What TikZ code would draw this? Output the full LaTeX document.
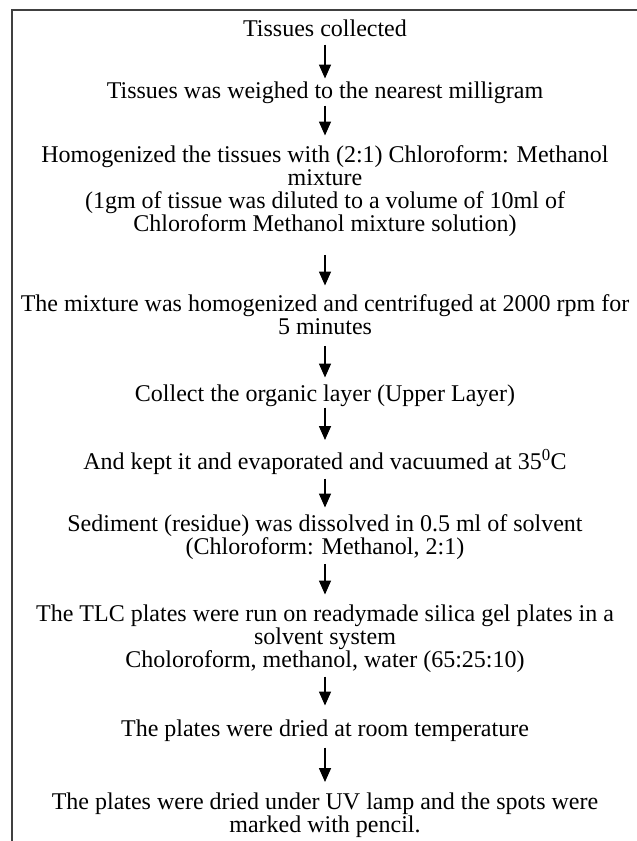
\documentclass[tikz,border=0pt]{standalone}
\usepackage{fontspec}
\setmainfont{Liberation Serif}
\usetikzlibrary{arrows.meta}
\newcommand\mystrut{\rule[-5pt]{0pt}{21pt}}
\begin{document}
\begin{tikzpicture}[x=1pt,y=-1pt,
  stepbox/.style={anchor=north,inner sep=0pt,align=center,
    font=\fontsize{24}{23}\selectfont},
  flow/.style={line width=1.6pt,-{Triangle[width=12pt,length=14pt]}},
  frame/.style={line width=1.8pt,black!75}]
\useasboundingbox (0,0) rectangle (637,841);
\coordinate (tl) at (12,10);
\coordinate (tr) at (637,10);
\coordinate (bl) at (12,841);
\draw[frame] (tr) -- (tl) -- (bl);

\node[stepbox] (a) at (325,19.5) {\mystrut Tissues collected};
\node[stepbox] (b) at (325,81.5) {\mystrut Tissues was weighed to the nearest milligram};
\node[stepbox] (c) at (325,145.5) {\mystrut Homogenized the tissues with (2:1) Chloroform: Methanol\\\mystrut mixture\\\mystrut (1gm of tissue was diluted to a volume of 10ml of\\\mystrut Chloroform Methanol mixture solution)};
\node[stepbox] (d) at (325,294.5) {\mystrut The mixture was homogenized and centrifuged at 2000 rpm for\\\mystrut 5 minutes};
\node[stepbox] (e) at (325,384.5) {\mystrut Collect the organic layer (Upper Layer)};
\node[stepbox] (f) at (325,449) {\mystrut And kept it and evaporated and vacuumed at 35\textsuperscript{0}C};
\node[stepbox] (g) at (325,514.5) {\mystrut Sediment (residue) was dissolved in 0.5 ml of solvent\\\mystrut (Chloroform: Methanol, 2:1)};
\node[stepbox] (h) at (325,604.5) {\mystrut The TLC plates were run on readymade silica gel plates in a\\\mystrut solvent system\\\mystrut Choloroform, methanol, water (65:25:10)};
\node[stepbox] (i) at (325,719.5) {\mystrut The plates were dried at room temperature};
\node[stepbox] (j) at (325,793) {\mystrut The plates were dried under UV lamp and the spots were\\\mystrut marked with pencil.};

\draw[flow,shorten <=3pt,shorten >=3pt] (a) -- (b);
\draw[flow,shorten <=2pt,shorten >=10pt] (b) -- (c);
\draw[flow,shorten <=18pt,shorten >=9pt] (c) -- (d);
\draw[flow,shorten <=6pt,shorten >=7pt] (d) -- (e);
\draw[flow,shorten <=1pt,shorten >=9pt] (e) -- (f);
\draw[flow,shorten <=4pt,shorten >=7pt] (f) -- (g);
\draw[flow,shorten <=4pt,shorten >=10pt] (g) -- (h);
\draw[flow,shorten <=4pt,shorten >=14pt] (h) -- (i);
\draw[flow,shorten <=6pt,shorten >=11pt] (i) -- (j);
\end{tikzpicture}
\end{document}
